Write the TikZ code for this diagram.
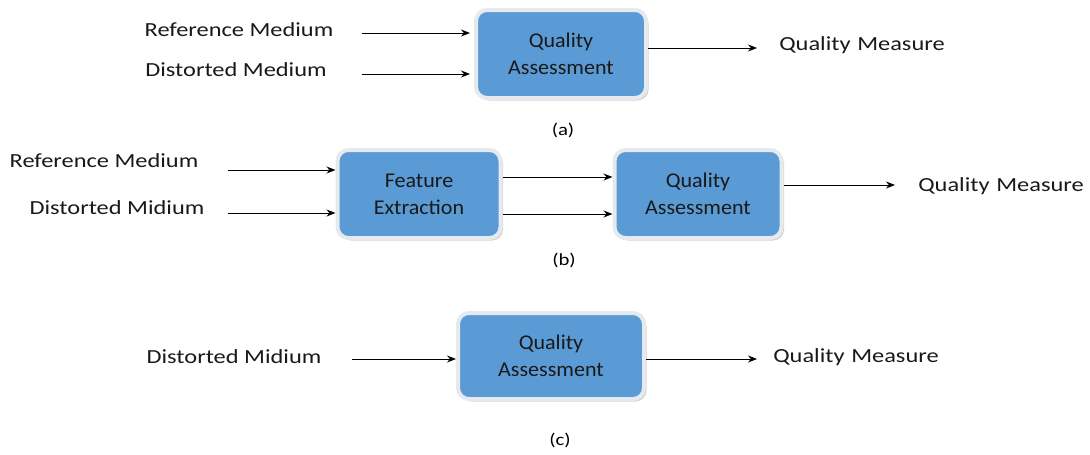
\documentclass[tikz,border=0pt]{standalone}
\usepackage{fontspec}
\setmainfont{Carlito}[FakeStretch=1.22]
\newfontfamily\boxfont{Carlito}[FakeStretch=1.05]
\usetikzlibrary{arrows.meta,shadows}
\definecolor{boxblue}{HTML}{5B9BD5}
\definecolor{rimgray}{HTML}{E6E9EE}
\tikzset{
  blk/.style={rounded corners=11pt, fill=boxblue, draw=rimgray, line width=4pt,
    align=center, font=\boxfont\fontsize{21}{27}\selectfont, text=black!90,
    drop shadow={opacity=0.35, shadow xshift=2.5pt, shadow yshift=-2.5pt}},
  lbl/.style={font=\fontsize{20}{22}\selectfont, text=black!90},
  captext/.style={font=\fontsize{17}{20}\selectfont},
  arr/.style={-{Stealth[length=9pt,width=7pt]}, line width=1pt}
}
\begin{document}
\begin{tikzpicture}[x=1pt,y=-1pt]
\useasboundingbox (0,0) rectangle (1090,455);
% (a)
\node[blk, minimum width=170pt, minimum height=88pt] (qa) at (561,54) {Quality\\Assessment};
\node[lbl] (ra) at (239,30) {Reference Medium};
\node[lbl] (da) at (236,70) {Distorted Medium};
\node[lbl] (qma) at (862,45) {Quality\,\,Measure};
\coordinate (ra1) at (362,33); \coordinate (ra2) at (470,33);
\coordinate (da1) at (362,74); \coordinate (da2) at (470,74);
\coordinate (oa2) at (757,48);
\draw[arr] (ra1) -- (ra2);
\draw[arr] (da1) -- (da2);
\draw[arr] (qa.east |- oa2) -- (oa2);
\node[captext] (capa) at (563,130) {(a)};
% (b)
\node[blk, minimum width=163pt, minimum height=88pt] (fe) at (419,194) {Feature\\Extraction};
\node[blk, minimum width=167pt, minimum height=88pt] (qb) at (698,194) {Quality\\Assessment};
\node[lbl] (rb) at (104,161) {Reference Medium};
\node[lbl] (db) at (117,208) {Distorted Midium};
\node[lbl] (qmb) at (1001,186) {Quality\,\,Measure};
\coordinate (rb1) at (228,170); \coordinate (db1) at (228,213);
\draw[arr] (rb1) -- (fe.west |- rb1);
\draw[arr] (db1) -- (fe.west |- db1);
\coordinate (m1) at (0,177); \coordinate (m2) at (0,214);
\draw[arr] (fe.east |- m1) -- (qb.west |- m1);
\draw[arr] (fe.east |- m2) -- (qb.west |- m2);
\coordinate (ob2) at (895,185);
\draw[arr] (qb.east |- ob2) -- (ob2);
\node[captext] (capb) at (564,260) {(b)};
% (c)
\node[blk, minimum width=186pt, minimum height=86pt] (qc) at (551,356) {Quality\\Assessment};
\node[lbl] (dc) at (234,357) {Distorted Midium};
\node[lbl] (qmc) at (856,357) {Quality\,\,Measure};
\coordinate (dc1) at (352,359); \coordinate (oc2) at (757,359);
\draw[arr] (dc1) -- (qc.west |- dc1);
\draw[arr] (qc.east |- oc2) -- (oc2);
\node[captext] (capc) at (560,440) {(c)};
\end{tikzpicture}
\end{document}
